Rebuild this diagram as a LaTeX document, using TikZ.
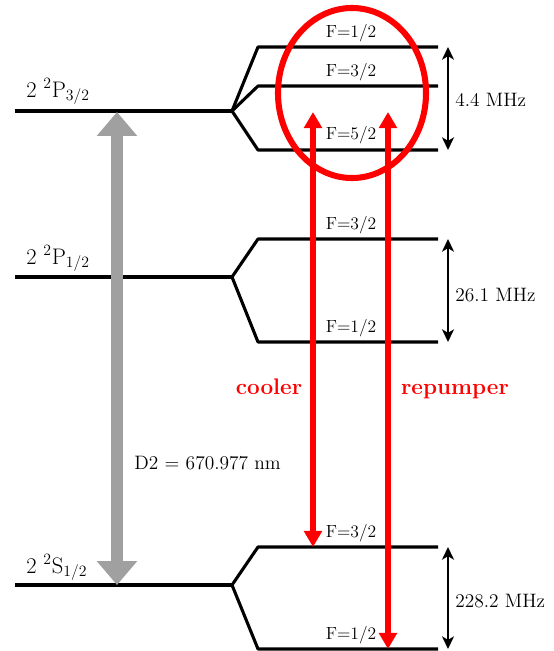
\documentclass[tikz,border=0pt]{standalone}
\usepackage{tikz}
\usetikzlibrary{arrows.meta}
\definecolor{LaserRed}{RGB}{255,0,0}
\definecolor{D2Gray}{RGB}{160,160,160}

\begin{document}
\begin{tikzpicture}[x=0.025cm,y=-0.025cm,line join=round,
  level/.style={line width=2.2pt},
  hfs/.style={{Stealth[length=9pt,width=8.5pt,inset=2.5pt]}-{Stealth[length=9pt,width=8.5pt,inset=2.5pt]},line width=1.4pt},
  laser/.style={{Triangle[width=12.5pt,length=11.5pt]}-{Triangle[width=12.5pt,length=11.5pt]},draw=LaserRed,line width=3.6pt},
  flabel/.style={font=\fontsize{12.5}{14}\selectfont,anchor=base,inner sep=0pt},
  mhzlabel/.style={font=\fontsize{13.8}{16}\selectfont,anchor=base west,inner sep=0pt},
  termlabel/.style={font=\fontsize{16}{18}\selectfont,anchor=base west,inner sep=0pt},
  laserlabel/.style={font=\fontsize{16}{18}\selectfont\bfseries,text=LaserRed,anchor=base,inner sep=0pt}]
  \useasboundingbox (0,0) rectangle (553,651);
  % fine structure levels
  \foreach \n/\y in {p3/111,p1/277,s/585} {
    \coordinate (\n) at (15,\y);
    \coordinate (\n split) at (232,\y);
    \draw[level] (\n) -- (\n split);
  }
  % hyperfine levels
  \foreach \n/\m/\y in {p3/a/47,p3/b/86,p3/c/150,p1/a/239,p1/b/342,s/a/547,s/b/649} {
    \coordinate (\n\m) at (258,\y);
    \coordinate (\n\m end) at (438,\y);
    \draw[level] (\n split) -- (\n\m) -- (\n\m end);
  }
  % term labels
  \node[termlabel] (p3lbl) at (26,97) {2 \textsuperscript{2}P\textsubscript{3/2}};
  \node[termlabel] (p1lbl) at (26,264) {2 \textsuperscript{2}P\textsubscript{1/2}};
  \node[termlabel] (slbl) at (26,573) {2 \textsuperscript{2}S\textsubscript{1/2}};
  % F labels
  \node[flabel] (p3f1) at (351,37) {F=1/2};
  \node[flabel] (p3f3) at (351,76) {F=3/2};
  \node[flabel] (p3f5) at (351,139) {F=5/2};
  \node[flabel] (p1f3) at (351,229) {F=3/2};
  \node[flabel] (p1f1) at (351,332) {F=1/2};
  \node[flabel] (sf3) at (351,537) {F=3/2};
  \node[flabel] (sf1) at (351,639) {F=1/2};
  % splittings
  \coordinate (p3top) at (448,47);
  \coordinate (p3bot) at (448,150);
  \coordinate (p1top) at (448,239);
  \coordinate (p1bot) at (448,342);
  \coordinate (stop) at (448,547);
  \coordinate (sbot) at (448,649);
  \draw[hfs] (p3top) -- (p3bot);
  \draw[hfs] (p1top) -- (p1bot);
  \draw[hfs] (stop) -- (sbot);
  \node[mhzlabel] (p3mhz) at (455,106) {4.4 MHz};
  \node[mhzlabel] (p1mhz) at (455,301) {26.1 MHz};
  \node[mhzlabel] (smhz) at (455,607) {228.2 MHz};
  % D2 line
  \coordinate (d2top) at (117,112);
  \coordinate (d2bot) at (117,585);
  \draw[{Triangle[width=27.7pt,length=17pt]}-{Triangle[width=27.7pt,length=17pt]},draw=D2Gray,line width=8.5pt] (d2top) -- (d2bot);
  \node[mhzlabel] (d2lbl) at (134,469) {D2 = 670.977 nm};
  % lasers
  \coordinate (cooltop) at (313,112);
  \coordinate (coolbot) at (313,547);
  \coordinate (reptop) at (388,112);
  \coordinate (repbot) at (388,649);
  \draw[laser] (cooltop) -- (coolbot);
  \draw[laser] (reptop) -- (repbot);
  \node[laserlabel] (cooler) at (269,394) {cooler};
  \node[laserlabel] (repumper) at (455,394) {repumper};
  % highlight
  \coordinate (ring) at (352,93);
  \draw[LaserRed,line width=4.3pt] (ring) ellipse [x radius=1.85cm,y radius=2.125cm];
\end{tikzpicture}
\end{document}
